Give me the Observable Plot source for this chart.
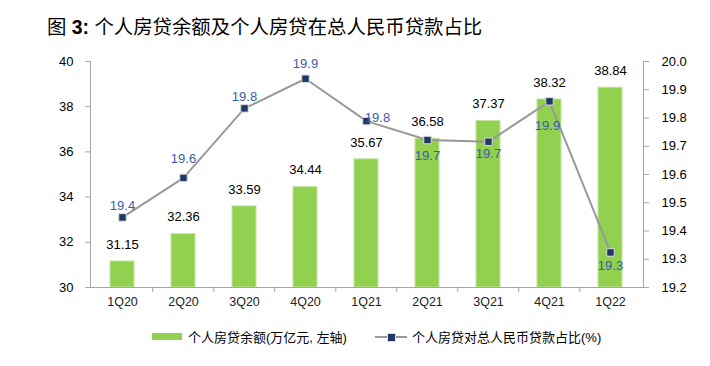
<!DOCTYPE html>
<html><head><meta charset="utf-8">
<script src="https://cdn.jsdelivr.net/npm/d3@7"></script>
<script src="https://cdn.jsdelivr.net/npm/@observablehq/plot@0.6"></script>
<style>
body{margin:0;background:#fff;font-family:"Liberation Sans","Noto Sans CJK SC",sans-serif;}
#wrap{width:710px;}
#title{height:45px;box-sizing:border-box;padding:9px 0 0 47px;line-height:36px;font-size:19.4px;font-weight:normal;color:#000;white-space:nowrap;}
#title b{font-weight:bold;}
#legend{position:relative;height:46px;font-size:13px;color:#000;}
#legend .item{position:absolute;top:0;height:33px;display:flex;align-items:center;white-space:nowrap;}
</style></head>
<body><div id="wrap">
<div id="title">图 <b>3:</b> 个人房贷余额及个人房贷在总人民币贷款占比</div>
<div id="chart"></div>
<div id="legend">
  <div class="item" style="left:152px;"><span style="display:inline-block;width:30px;height:7px;background:#92d050;margin-right:6px;"></span>个人房贷余额(万亿元, 左轴)</div>
  <div class="item" style="left:375px;"><span style="position:relative;display:inline-block;width:32px;height:10px;margin-right:5px;"><span style="position:absolute;left:0;top:4px;width:32px;height:2px;background:#999;"></span><span style="position:absolute;left:12px;top:1px;width:7px;height:7px;background:#1f3864;border:1px solid #ddd;box-sizing:content-box;"></span></span>个人房贷对总人民币贷款占比(%)</div>
</div>
</div>
<script>
const categories = ["1Q20","2Q20","3Q20","4Q20","1Q21","2Q21","3Q21","4Q21","1Q22"];
const balance = [31.15, 32.36, 33.59, 34.44, 35.67, 36.58, 37.37, 38.32, 38.84];
const share = [19.448, 19.588, 19.834, 19.939, 19.789, 19.722, 19.716, 19.859, 19.324];
const leftTicks = [30, 32, 34, 36, 38, 40];
const rightTicks = [19.2, 19.3, 19.4, 19.5, 19.6, 19.7, 19.8, 19.9, 20.0];

const leftDomain = [30, 40];
const rightDomain = [19.2, 20.0];
const k = (leftDomain[1] - leftDomain[0]) / (rightDomain[1] - rightDomain[0]);
const toLeft = v => leftDomain[0] + (v - rightDomain[0]) * k;
const fromLeft = v => rightDomain[0] + (v - leftDomain[0]) / k;

const data = categories.map((c, i) => ({cat: c, balance: balance[i], share: share[i], i}));

const W = 710, ML = 90, MR = 67;
const step = (W - ML - MR) / categories.length;
const grey = "#a6a6a6";
const blue = "#3a5ca8";
const font = 'Liberation Sans, "Noto Sans CJK SC", sans-serif';

const chart = Plot.plot({
  width: W, height: 275,
  marginLeft: ML, marginRight: MR, marginTop: 16, marginBottom: 33,
  style: {fontFamily: font, fontSize: "13px", fontWeight: "normal", color: "#000", background: "#fff"},
  x: {domain: categories, paddingInner: 0.6, paddingOuter: 0.3, axis: null},
  y: {domain: leftDomain, axis: null},
  marks: [
    Plot.barY(data, {x: "cat", y1: () => leftDomain[0], y2: "balance", fill: "#92d050", stroke: "#c4e49e", strokeWidth: 1}),
    Plot.ruleY([leftDomain[0]], {stroke: grey}),
    Plot.frame({anchor: "left", stroke: grey}),
    Plot.frame({anchor: "right", stroke: grey}),
    Plot.axisY(leftTicks, {anchor: "left", tickSize: 5, tickPadding: 12, stroke: grey, fill: "#000", fontSize: 13, label: null}),
    Plot.axisY(rightTicks.map(toLeft), {anchor: "right", tickSize: 5, tickPadding: 13, stroke: grey, fill: "#000", fontSize: 13, label: null, tickFormat: d => fromLeft(d).toFixed(1)}),
    Plot.text(categories, {x: d => d, frameAnchor: "bottom", dy: 18, fontSize: 12.5, fill: "#222"}),
    Plot.axisX(categories.slice(1), {anchor: "bottom", tickSize: 5, stroke: grey, dx: -step / 2, tickFormat: () => "", label: null}),
    Plot.text(data, {x: "cat", y: "balance", text: d => d.balance.toFixed(2), dy: -17, fontSize: 13, fill: "#000"}),
    Plot.line(data, {x: "cat", y: d => toLeft(d.share), stroke: "#999", strokeWidth: 2}),
    Plot.dot(data, {x: "cat", y: d => toLeft(d.share), symbol: "square", r: 4.2, fill: "#1f3864", stroke: "#dcdcdc", strokeWidth: 1}),
    Plot.text(data, {filter: d => d.i === 0 || d.i === 2, x: "cat", y: d => toLeft(d.share), text: d => d.share.toFixed(1), dy: -12, fontSize: 13, fill: blue}),
    Plot.text(data, {filter: d => d.i === 1, x: "cat", y: d => toLeft(d.share), text: d => d.share.toFixed(1), dy: -19, fontSize: 13, fill: blue}),
    Plot.text(data, {filter: d => d.i === 3, x: "cat", y: d => toLeft(d.share), text: d => d.share.toFixed(1), dy: -15, fontSize: 13, fill: blue}),
    Plot.text(data, {filter: d => d.i === 4, x: "cat", y: d => toLeft(d.share), text: d => d.share.toFixed(1), dx: 11, dy: -3, fontSize: 13, fill: blue}),
    Plot.text(data, {filter: d => d.i === 5, x: "cat", y: d => toLeft(d.share), text: d => d.share.toFixed(1), dy: 16, fontSize: 13, fill: blue}),
    Plot.text(data, {filter: d => d.i === 6, x: "cat", y: d => toLeft(d.share), text: d => d.share.toFixed(1), dy: 12, fontSize: 13, fill: blue}),
    Plot.text(data, {filter: d => d.i === 7, x: "cat", y: d => toLeft(d.share), text: d => d.share.toFixed(1), dx: -2, dy: 24, fontSize: 13, fill: blue}),
    Plot.text(data, {filter: d => d.i === 8, x: "cat", y: d => toLeft(d.share), text: d => d.share.toFixed(1), dy: 13, fontSize: 13, fill: blue})
  ]
});
document.getElementById("chart").appendChild(chart);
</script>
</body></html>
